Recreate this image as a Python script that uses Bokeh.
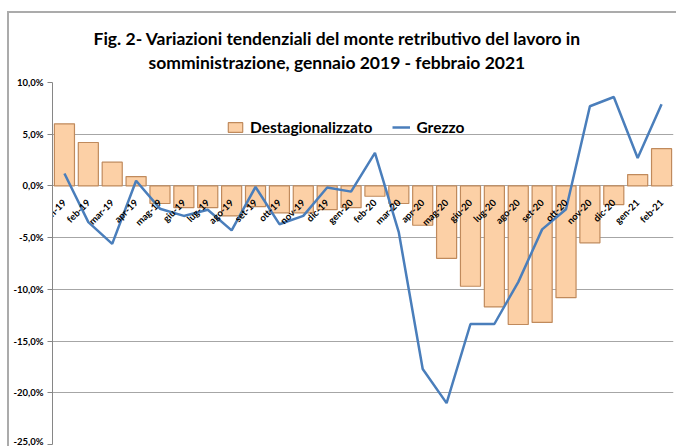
from bokeh.plotting import figure
from bokeh.models import (FactorRange, Range1d, FixedTicker, Legend, LegendItem,
                          ColumnDataSource, Title)
from bokeh.embed import file_html
from bokeh.resources import INLINE
import math

categories = ["gen-19", "feb-19", "mar-19", "apr-19", "mag-19", "giu-19", "lug-19",
              "ago-19", "set-19", "ott-19", "nov-19", "dic-19", "gen-20", "feb-20",
              "mar-20", "apr-20", "mag-20", "giu-20", "lug-20", "ago-20", "set-20",
              "ott-20", "nov-20", "dic-20", "gen-21", "feb-21"]
destagionalizzato = [6.0, 4.2, 2.3, 0.9, -1.7, -2.1, -2.1, -2.9, -2.0, -2.6, -2.6, -2.3,
                     -2.1, -1.0, -1.7, -3.8, -7.0, -9.7, -11.7, -13.4, -13.2, -10.8,
                     -5.5, -1.8, 1.1, 3.6]
grezzo = [1.2, -3.5, -5.6, 0.5, -2.2, -2.9, -2.3, -4.3, -0.1, -3.7, -2.9, -0.15,
          -0.55, 3.2, -4.5, -17.7, -21.0, -13.35, -13.35, -9.3, -4.2, -2.25,
          7.7, 8.6, 2.7, 7.9]
y_ticks = [10, 5, 0, -5, -10, -15, -20, -25]
y_tick_labels = ["10,0%", "5,0%", "0,0%", "-5,0%", "-10,0%", "-15,0%", "-20,0%", "-25,0%"]
title_lines = ["Fig. 2- Variazioni tendenziali del monte retributivo del lavoro in",
               "somministrazione, gennaio 2019 - febbraio 2021"]
legend_labels = ["Destagionalizzato", "Grezzo"]

FONT = "Lato"

src = ColumnDataSource(dict(cat=categories, d=destagionalizzato, g=grezzo,
                            zero=[0] * len(categories)))

p = figure(width=669, height=435, output_backend="svg", toolbar_location=None,
           x_range=FactorRange(*categories, range_padding=0),
           y_range=Range1d(-25, 10),
           min_border_left=43, min_border_right=5, min_border_top=69,
           min_border_bottom=4)
p.margin = (11, 0, 0, 7)
p.styles = {"border-left": "2px solid #ababab", "border-top": "2px solid #ababab"}
p.outline_line_color = None
p.background_fill_color = "white"
p.border_fill_color = "white"

# title: first line on top, second line closest to the plot
p.title.text = title_lines[0]
p.title.align = "left"
p.title.offset = 41
p.title.standoff = -16
p.title.text_font = FONT
p.title.text_font_size = "17.5px"
p.title.text_font_style = "bold"
p.title.text_color = "#000000"
p.add_layout(Title(text=title_lines[1], align="left", offset=96, standoff=19,
                   text_font=FONT, text_font_size="17.5px",
                   text_font_style="bold", text_color="#000000"), "above")

# category axis drawn along the zero line
xax = p.xaxis[0]
xax.fixed_location = 0
xax.axis_line_color = None
xax.major_tick_line_color = None
xax.minor_tick_line_color = None
xax.major_label_orientation = math.pi / 4
xax.major_label_standoff = 9
xax.major_label_text_font = FONT
xax.major_label_text_font_size = "9.5px"
xax.major_label_text_font_style = "bold"
xax.major_label_text_color = "#000000"

p.xgrid.grid_line_color = None
p.ygrid.grid_line_color = "#a6a6a6"
p.ygrid.grid_line_width = 1
p.yaxis.ticker = FixedTicker(ticks=y_ticks)
p.yaxis.major_label_overrides = {t: l for t, l in zip(y_ticks, y_tick_labels)}
p.yaxis.minor_tick_line_color = None
p.yaxis.major_tick_in = 0
p.yaxis.major_tick_out = 5
p.yaxis.major_tick_line_color = "#868686"
p.yaxis.axis_line_color = "#868686"
p.yaxis.major_label_text_font = FONT
p.yaxis.major_label_text_font_size = "9.5px"
p.yaxis.major_label_text_font_style = "bold"
p.yaxis.major_label_text_color = "#000000"
p.yaxis.major_label_standoff = 4

bars = p.vbar(x="cat", top="d", bottom="zero", width=0.84, source=src,
              fill_color="#fcd0a6", line_color="#c08a5c", line_width=1.2)
line = p.line(x="cat", y="g", source=src, line_color="#4a7ebb", line_width=2.5)

legend = Legend(items=[LegendItem(label=legend_labels[0], renderers=[bars]),
                       LegendItem(label=legend_labels[1], renderers=[line])],
                orientation="horizontal", location=(174, 308),
                background_fill_alpha=0, border_line_color=None,
                label_text_font=FONT, label_text_font_size="15.5px",
                label_text_font_style="bold", label_text_color="#000000",
                glyph_width=18, glyph_height=12, label_standoff=6, spacing=20,
                padding=8, margin=0)
p.add_layout(legend, "center")

open("out.html", "w").write(file_html(p, INLINE))
